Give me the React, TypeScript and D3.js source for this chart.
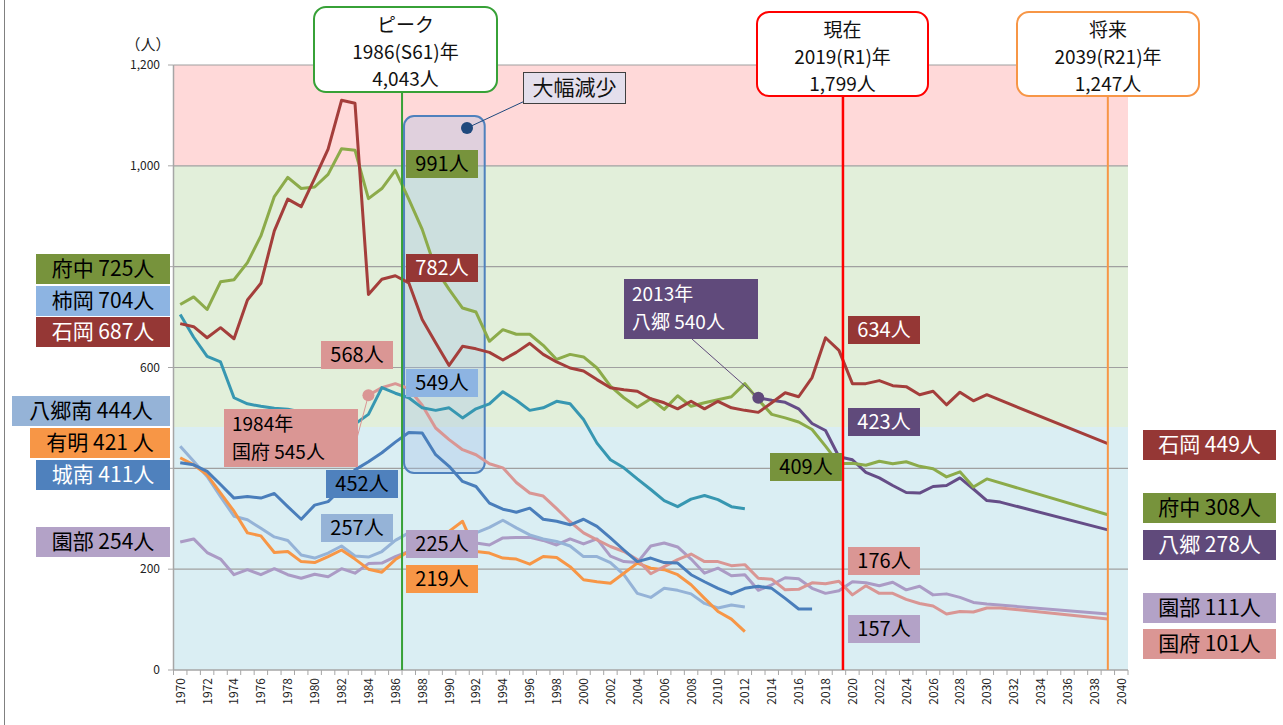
import React, { useEffect, useRef } from "react";
import * as d3 from "d3";

const years = d3.range(1970, 2041);
const yTicks = [0, 200, 400, 600, 800, 1000, 1200];
// tick labels covered by the left label boxes in the original
const hiddenTickLabels = [400, 800];
const bandStops = [
  { from: 1000, to: 1200, color: "#FFD9D9" },
  { from: 482, to: 1000, color: "#E2EFDA" },
  { from: 0, to: 482, color: "#DAEEF3" },
];

// 石岡 1970-2039
const ishioka = [
  687, 681, 659, 679, 657, 734, 767, 871, 934, 919, 975, 1033, 1130, 1124, 745, 775, 782,
  768, 695, 649, 604, 642, 637, 630, 615, 630, 648, 626, 611, 599, 593,
  576, 560, 556, 553, 538, 530, 518, 533, 518, 533, 520, 515, 511,
  530, 550, 542, 580, 659, 634, 568, 568, 574, 564, 562, 546, 553, 526, 551, 534, 546,
  null, null, null, null, null, null, null, null, 449,
];
// 府中 1970-2039
const fuchu = [
  725, 740, 715, 770, 774, 808, 861, 939, 977, 955, 958, 983, 1034, 1031, 935, 955, 991,
  934, 874, 795, 755, 718, 710, 652, 675, 666, 666, 644, 616, 626, 621,
  599, 563, 540, 521, 538, 517, 544, 523, 530, 536, 542, 568, 536,
  507, 500, 492, 477, 444, 409, 410, 406, 414, 409, 413, 404, 399, 383, 393, 363, 379,
  null, null, null, null, null, null, null, null, 308,
];
// 柿岡 1970-2012
const kakioka = [
  705, 660, 622, 611, 540, 528, 523, 519, 517, 512, 505, 498, 492, 488, 507, 560, 549,
  540, 520, 515, 520, 500, 518, 528, 552, 535, 515, 520, 533, 528, 497,
  450, 417, 401, 379, 358, 336, 324, 339, 346, 338, 324, 320,
];
// 八郷南 1970-2012
const yasatoMinami = [
  444, 414, 384, 344, 305, 298, 281, 264, 257, 228, 222, 232, 246, 226, 224, 235, 257,
  272, 270, 268, 268, 270, 272, 283, 297, 282, 268, 260, 255, 246, 225,
  225, 213, 189, 152, 144, 162, 158, 151, 132, 123, 129, 125,
];
// 有明 1970-2012
const ariake = [
  421, 407, 387, 351, 315, 272, 266, 233, 235, 215, 213, 225, 238, 220, 200, 194, 219,
  235, 250, 262, 275, 295, 235, 232, 222, 220, 210, 225, 223, 205, 179,
  175, 172, 192, 212, 202, 199, 189, 169, 142, 116, 101, 76,
];
// 城南 1970-2017
const jonan = [
  411, 407, 394, 368, 341, 344, 341, 350, 324, 299, 327, 334, 360, 397, 413, 431, 452,
  471, 470, 427, 404, 374, 364, 331, 319, 313, 321, 299, 295, 288, 299,
  285, 262, 238, 215, 222, 213, 212, 189, 175, 162, 151, 162, 166, 162, 142, 121, 121,
];
// 園部 1970-2039
const sonobe = [
  254, 260, 233, 220, 189, 199, 189, 201, 189, 182, 190, 185, 201, 192, 211, 212, 225,
  235, 240, 245, 248, 250, 252, 248, 262, 263, 263, 257, 248, 260, 250,
  260, 226, 215, 213, 246, 252, 244, 220, 192, 202, 187, 189, 158,
  169, 183, 181, 162, 152, 157, 175, 173, 167, 174, 159, 166, 149, 151, 144, 134, 131,
  null, null, null, null, null, null, null, null, 111,
];
// 国府 1984-2039
const kokufu = [
  545, 560, 568, 558, 525, 480, 457, 437, 427, 409, 401, 372, 351, 345, 320, 294, 272,
  258, 245, 235, 219, 191, 205, 219, 230, 215, 215, 207, 209, 182,
  180, 159, 160, 173, 171, 176, 149, 167, 152, 152, 140, 132, 127, 111, 116, 115, 123, 123,
  null, null, null, null, null, null, null, 101,
];
// 八郷 2013-2039
const yasato = [
  540, 535, 531, 518, 489, 475, 423, 417, 392, 381, 366, 352, 351, 364, 366, 381, 359, 336, 333,
  null, null, null, null, null, null, null, 278,
];

const series = [
  { name: "園部", start: 1970, values: sonobe, color: "#AB9BC5" },
  { name: "八郷南", start: 1970, values: yasatoMinami, color: "#95B3D7" },
  { name: "有明", start: 1970, values: ariake, color: "#F79646" },
  { name: "国府", start: 1984, values: kokufu, color: "#D99694" },
  { name: "城南", start: 1970, values: jonan, color: "#4A7EBB" },
  { name: "柿岡", start: 1970, values: kakioka, color: "#3797B1" },
  { name: "八郷", start: 2013, values: yasato, color: "#654D87" },
  { name: "府中", start: 1970, values: fuchu, color: "#8CAB4A" },
  { name: "石岡", start: 1970, values: ishioka, color: "#A43E3B" },
];

const FONT = "'Noto Sans CJK JP', 'Noto Sans', sans-serif";

// label boxes (annotation layout)
const labels = [
  { t: "府中 725人", x: 36, y: 254, w: 134, h: 30, fill: "#77933C", fc: "#000", fs: 21 },
  { t: "柿岡 704人", x: 36, y: 286, w: 134, h: 30, fill: "#8DB4E2", fc: "#000", fs: 21 },
  { t: "石岡 687人", x: 36, y: 317, w: 134, h: 30, fill: "#953735", fc: "#fff", fs: 21 },
  { t: "八郷南 444人", x: 12, y: 396, w: 158, h: 30, fill: "#95B3D7", fc: "#000", fs: 21 },
  { t: "有明 421 人", x: 30, y: 428, w: 140, h: 30, fill: "#F79646", fc: "#000", fs: 21 },
  { t: "城南 411人", x: 36, y: 460, w: 134, h: 30, fill: "#4F81BD", fc: "#fff", fs: 21 },
  { t: "園部 254人", x: 36, y: 527, w: 134, h: 30, fill: "#B3A2C7", fc: "#000", fs: 21 },
  { t: "石岡 449人", x: 1143, y: 430, w: 133, h: 30, fill: "#953735", fc: "#fff", fs: 21 },
  { t: "府中 308人", x: 1143, y: 493, w: 133, h: 30, fill: "#77933C", fc: "#000", fs: 21 },
  { t: "八郷 278人", x: 1143, y: 530, w: 133, h: 30, fill: "#604A7B", fc: "#fff", fs: 21 },
  { t: "園部 111人", x: 1143, y: 593, w: 133, h: 30, fill: "#B3A2C7", fc: "#000", fs: 21 },
  { t: "国府 101人", x: 1143, y: 629, w: 133, h: 30, fill: "#DA9694", fc: "#000", fs: 21 },
  { t: "991人", x: 406, y: 150, w: 72, h: 28, fill: "#77933C", fc: "#000", fs: 20 },
  { t: "782人", x: 406, y: 254, w: 72, h: 28, fill: "#953735", fc: "#fff", fs: 20 },
  { t: "549人", x: 406, y: 369, w: 72, h: 28, fill: "#8DB4E2", fc: "#000", fs: 20 },
  { t: "568人", x: 321, y: 341, w: 72, h: 28, fill: "#DA9694", fc: "#000", fs: 20 },
  { t: "452人", x: 326, y: 470, w: 72, h: 28, fill: "#4F81BD", fc: "#000", fs: 20 },
  { t: "257人", x: 321, y: 514, w: 72, h: 28, fill: "#95B3D7", fc: "#000", fs: 20 },
  { t: "225人", x: 406, y: 530, w: 72, h: 28, fill: "#B3A2C7", fc: "#000", fs: 20 },
  { t: "219人", x: 406, y: 565, w: 72, h: 28, fill: "#F79646", fc: "#000", fs: 20 },
  { t: "634人", x: 848, y: 316, w: 72, h: 28, fill: "#953735", fc: "#fff", fs: 20 },
  { t: "423人", x: 848, y: 408, w: 72, h: 28, fill: "#604A7B", fc: "#fff", fs: 20 },
  { t: "409人", x: 770, y: 453, w: 72, h: 28, fill: "#77933C", fc: "#000", fs: 20 },
  { t: "176人", x: 848, y: 547, w: 72, h: 28, fill: "#DA9694", fc: "#000", fs: 20 },
  { t: "157人", x: 848, y: 615, w: 72, h: 28, fill: "#B3A2C7", fc: "#000", fs: 20 },
];

const callouts = [
  { t: ["ピーク", "1986(S61)年", "4,043人"], x: 314, y: 7, w: 183, h: 85, stroke: "#37A137" },
  { t: ["現在", "2019(R1)年", "1,799人"], x: 757, y: 12, w: 171, h: 84, stroke: "#FF0000" },
  { t: ["将来", "2039(R21)年", "1,247人"], x: 1017, y: 12, w: 182, h: 84, stroke: "#F79646" },
];

function App() {
  const svgRef = useRef<SVGSVGElement>(null);
  const width = 1283;
  const height = 725;

  useEffect(() => {
    const svg = d3.select(svgRef.current);
    svg.selectAll("*").remove();

    const x = d3.scaleBand<number>().domain(years).range([173.5, 1128]);
    const cx = (yr: number) => (x(yr) as number) + x.bandwidth() / 2;
    const y = d3.scaleLinear().domain([0, 1200]).range([670, 65]);

    svg.append("rect").attr("width", width).attr("height", height).attr("fill", "#fff");
    svg.append("line").attr("x1", 4.5).attr("x2", 4.5).attr("y1", 0).attr("y2", height)
      .attr("stroke", "#808080");

    // background bands
    bandStops.forEach(b => {
      svg.append("rect")
        .attr("x", 173.5).attr("width", 1128 - 173.5)
        .attr("y", y(b.to)).attr("height", y(b.from) - y(b.to))
        .attr("fill", b.color);
    });

    // grid
    yTicks.filter(v => v > 0).forEach(v => {
      svg.append("line")
        .attr("x1", 173.5).attr("x2", 1128)
        .attr("y1", y(v)).attr("y2", y(v))
        .attr("stroke", "#A0A0A0").attr("stroke-width", 1.2);
    });

    // y axis
    svg.append("line").attr("x1", 173.5).attr("x2", 173.5).attr("y1", y(1200)).attr("y2", y(0))
      .attr("stroke", "#A6A6A6").attr("stroke-width", 1.5);
    yTicks.forEach(v => {
      svg.append("line").attr("x1", 168).attr("x2", 173.5).attr("y1", y(v)).attr("y2", y(v))
        .attr("stroke", "#A6A6A6");
      if (hiddenTickLabels.includes(v)) return;
      svg.append("text")
        .attr("x", 160).attr("y", y(v)).attr("dy", "0.35em")
        .attr("text-anchor", "end")
        .attr("font-family", FONT).attr("font-size", 12).attr("fill", "#222")
        .text(d3.format(",")(v));
    });
    svg.append("text").attr("x", 148).attr("y", 50).attr("text-anchor", "middle")
      .attr("font-family", FONT).attr("font-size", 15).attr("fill", "#222").text("（人）");

    // x axis
    svg.append("line").attr("x1", 173.5).attr("x2", 1128).attr("y1", y(0)).attr("y2", y(0))
      .attr("stroke", "#A6A6A6").attr("stroke-width", 1.5);
    years.concat([2041]).forEach(yr => {
      const xx = yr === 2041 ? 1128 : (x(yr) as number);
      svg.append("line").attr("x1", xx).attr("x2", xx).attr("y1", y(0)).attr("y2", y(0) + 5)
        .attr("stroke", "#A6A6A6");
    });
    years.filter(yr => yr % 2 === 0).forEach(yr => {
      svg.append("text")
        .attr("transform", `translate(${cx(yr) + 4.5},${y(0) + 8}) rotate(-90)`)
        .attr("text-anchor", "end")
        .attr("font-family", FONT).attr("font-size", 12).attr("fill", "#222")
        .text(yr);
    });

    // decline region box
    svg.append("rect")
      .attr("x", (x(1987) as number) + 2).attr("y", 116)
      .attr("width", (x(1993) as number) - (x(1987) as number)).attr("height", 357)
      .attr("rx", 10)
      .attr("fill", "rgba(160,190,230,0.32)")
      .attr("stroke", "#4F81BD").attr("stroke-width", 2);

    // lines
    const line = d3.line<{ year: number; value: number }>()
      .x(d => cx(d.year))
      .y(d => y(d.value));

    series.forEach(s => {
      const pts = s.values
        .map((v, i) => ({ year: s.start + i, value: v as number }))
        .filter(d => d.value !== null);
      svg.append("path")
        .datum(pts)
        .attr("fill", "none")
        .attr("stroke", s.color)
        .attr("stroke-width", 3)
        .attr("stroke-linejoin", "round")
        .attr("d", line);
    });

    // vertical reference lines
    svg.append("line").attr("x1", x(1987) as number).attr("x2", x(1987) as number)
      .attr("y1", 92).attr("y2", y(0)).attr("stroke", "#37A137").attr("stroke-width", 2);
    svg.append("line").attr("x1", cx(2019) + 4).attr("x2", cx(2019) + 4)
      .attr("y1", 96).attr("y2", y(0)).attr("stroke", "#FF0000").attr("stroke-width", 2.5);
    svg.append("line").attr("x1", cx(2039)).attr("x2", cx(2039))
      .attr("y1", 96).attr("y2", y(0)).attr("stroke", "#F79646").attr("stroke-width", 2);

    // callouts
    callouts.forEach(c => {
      svg.append("rect").attr("x", c.x).attr("y", c.y).attr("width", c.w).attr("height", c.h)
        .attr("rx", 12).attr("fill", "#fff").attr("stroke", c.stroke).attr("stroke-width", 2);
      c.t.forEach((tt, i) => {
        svg.append("text").attr("x", c.x + c.w / 2).attr("y", c.y + 18 + i * 27).attr("dy", "0.35em")
          .attr("text-anchor", "middle").attr("font-family", FONT).attr("font-size", 19)
          .attr("fill", "#111").text(tt);
      });
    });

    // 大幅減少
    svg.append("line").attr("x1", 467).attr("y1", 128).attr("x2", 527).attr("y2", 100)
      .attr("stroke", "#1F497D").attr("stroke-width", 1);
    svg.append("circle").attr("cx", 467).attr("cy", 128).attr("r", 6).attr("fill", "#1F497D");
    svg.append("rect").attr("x", 523.5).attr("y", 72.5).attr("width", 102).attr("height", 31)
      .attr("fill", "#E4DFEC").attr("stroke", "#404040").attr("stroke-width", 1);
    svg.append("text").attr("x", 574.5).attr("y", 88).attr("dy", "0.35em").attr("text-anchor", "middle")
      .attr("font-family", FONT).attr("font-size", 21).attr("fill", "#111").text("大幅減少");

    // 1984 国府 / 2013 八郷 callouts
    svg.append("line").attr("x1", cx(1984)).attr("y1", y(545)).attr("x2", 357).attr("y2", 438)
      .attr("stroke", "#DA9694").attr("stroke-width", 1);
    svg.append("circle").attr("cx", cx(1984)).attr("cy", y(545)).attr("r", 6).attr("fill", "#DA9694");
    svg.append("line").attr("x1", cx(2013)).attr("y1", y(540)).attr("x2", 692).attr("y2", 339)
      .attr("stroke", "#604A7B").attr("stroke-width", 1);
    svg.append("circle").attr("cx", cx(2013)).attr("cy", y(540)).attr("r", 6).attr("fill", "#604A7B");

    const twoLine = [
      { t: ["1984年", "国府 545人"], x: 224, y: 409, w: 134, h: 58, fill: "#DA9694", fc: "#000" },
      { t: ["2013年", "八郷 540人"], x: 624, y: 279, w: 134, h: 60, fill: "#604A7B", fc: "#fff" },
    ];
    twoLine.forEach(b => {
      svg.append("rect").attr("x", b.x).attr("y", b.y).attr("width", b.w).attr("height", b.h).attr("fill", b.fill);
      b.t.forEach((tt, i) => {
        svg.append("text").attr("x", b.x + 8).attr("y", b.y + 15 + i * 28).attr("dy", "0.35em")
          .attr("font-family", FONT).attr("font-size", 19).attr("fill", b.fc).text(tt);
      });
    });

    labels.forEach(b => {
      svg.append("rect").attr("x", b.x).attr("y", b.y).attr("width", b.w).attr("height", b.h).attr("fill", b.fill);
      svg.append("text").attr("x", b.x + b.w / 2).attr("y", b.y + b.h / 2).attr("dy", "0.35em")
        .attr("text-anchor", "middle")
        .attr("font-family", FONT).attr("font-size", b.fs).attr("fill", b.fc).text(b.t);
    });
  }, []);

  return (
    <svg
      ref={svgRef}
      width={width}
      height={height}
      style={{ position: "absolute", left: 0, top: 0 }}
    ></svg>
  );
}

export default App;
